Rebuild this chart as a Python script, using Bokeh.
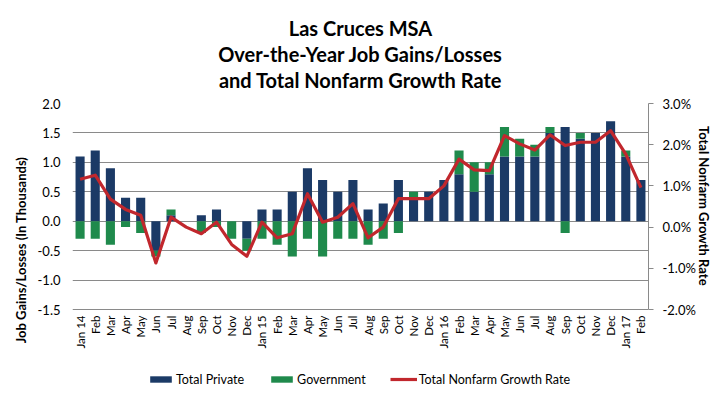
import numpy as np
from bokeh.plotting import figure
from bokeh.models import (ColumnDataSource, Range1d, LinearAxis, FixedTicker,
                          PrintfTickFormatter, NumeralTickFormatter, Legend,
                          LegendItem, Title)
from bokeh.core.properties import value
from bokeh.embed import file_html
from bokeh.resources import INLINE

months = ["Jan 14", "Feb", "Mar", "Apr", "May", "Jun", "Jul", "Aug", "Sep", "Oct", "Nov", "Dec",
          "Jan 15", "Feb", "Mar", "Apr", "May", "Jun", "Jul", "Aug", "Sep", "Oct", "Nov", "Dec",
          "Jan 16", "Feb", "Mar", "Apr", "May", "Jun", "Jul", "Aug", "Sep", "Oct", "Nov", "Dec",
          "Jan 17", "Feb"]
private = [1.1, 1.2, 0.9, 0.4, 0.4, -0.5, 0.1, 0.0, 0.1, 0.2, 0.0, -0.3,
           0.2, 0.2, 0.5, 0.9, 0.7, 0.5, 0.7, 0.2, 0.3, 0.7, 0.4, 0.5,
           0.7, 0.8, 0.5, 0.8, 1.1, 1.1, 1.1, 1.5, 1.6, 1.4, 1.5, 1.7,
           1.1, 0.7]
government = [-0.3, -0.3, -0.4, -0.1, -0.2, -0.1, 0.1, 0.0, -0.2, -0.1, -0.3, -0.2,
              -0.3, -0.4, -0.6, -0.3, -0.6, -0.3, -0.3, -0.4, -0.3, -0.2, 0.1, 0.0,
              0.0, 0.4, 0.5, 0.2, 0.5, 0.3, 0.2, 0.1, -0.2, 0.1, 0.0, 0.0,
              0.1, 0.0]
growth_rate = [1.16, 1.26, 0.68, 0.43, 0.29, -0.87, 0.24, 0.0, -0.16, 0.12, -0.42, -0.71,
               0.12, -0.26, -0.16, 0.81, 0.12, 0.24, 0.57, -0.26, 0.0, 0.69, 0.69, 0.69,
               1.0, 1.65, 1.39, 1.37, 2.22, 2.02, 1.87, 2.24, 1.98, 2.06, 2.06, 2.34,
               1.77, 0.96]
left_ticks = [-1.5, -1.0, -0.5, 0.0, 0.5, 1.0, 1.5, 2.0]
right_ticks = [-2, -1, 0, 1, 2, 3]

NAVY = "#1b3a66"
GREEN = "#1f8a4c"
RED = "#c1272d"
GRID = "#8a8a8a"
FONT = "Lato"

# layout: visible grid area is PLOT_H px tall; the frame extends below it
# so that the month labels and legend can sit inside the frame.
PLOT_H = 206
FRAME_H = 293
L_MIN, L_MAX = left_ticks[0], left_ticks[-1]
R_MIN, R_MAX = right_ticks[0], right_ticks[-1]
l_lo = L_MAX - (L_MAX - L_MIN) * FRAME_H / PLOT_H
r_lo = R_MAX - (R_MAX - R_MIN) * FRAME_H / PLOT_H

n = len(months)
x = list(range(n))
p_arr = np.array(private)
g_arr = np.array(government)
same = (np.sign(p_arr) == np.sign(g_arr)) & (p_arr != 0)
g_bottom = np.where(same, p_arr, 0.0)
g_top = g_bottom + g_arr

src = ColumnDataSource(dict(x=x, priv=private, zero=[0.0] * n,
                            gb=g_bottom, gt=g_top, rate=growth_rate,
                            lab=months, laby=[L_MIN] * n))

p = figure(frame_width=576, frame_height=FRAME_H, x_range=Range1d(-0.5, n - 0.5),
           y_range=Range1d(l_lo, L_MAX), output_backend="svg",
           toolbar_location=None, title_location=None,
           min_border_left=72, min_border_right=76,
           min_border_top=103, min_border_bottom=0)
p.extra_y_ranges = {"pct": Range1d(r_lo, R_MAX)}
p.outline_line_color = None
p.background_fill_color = "white"
p.border_fill_color = "white"

r_priv = p.vbar(x="x", bottom="zero", top="priv", width=0.6, source=src,
                fill_color=NAVY, line_color=None)
r_gov = p.vbar(x="x", bottom="gb", top="gt", width=0.6, source=src,
               fill_color=GREEN, line_color=None)
r_line = p.line(x="x", y="rate", source=src, y_range_name="pct",
                line_color=RED, line_width=3.2, line_join="round")

# month labels (rotated, reading upward, hanging below the -1.5 line)
p.text(x="x", y="laby", text="lab", source=src, angle=np.pi / 2,
       text_align="right", text_baseline="middle", y_offset=6,
       text_font=value(FONT), text_font_size="11.5px", text_color="black")

# spacer + titles (added inner to outer)
p.add_layout(Title(text=" ", text_font_size="8px", standoff=0), "above")
for i, t in enumerate(["and Total Nonfarm Growth Rate",
                       "Over-the-Year Job Gains/Losses",
                       "Las Cruces MSA"]):
    p.add_layout(Title(text=t, align="center", offset=4,
                       text_font=FONT, text_font_size="20px",
                       text_font_style="bold", text_color="black",
                       standoff=1 if i == 0 else 0), "above")

p.xaxis.visible = False

# left y axis
ya = p.yaxis[0]
ya.ticker = FixedTicker(ticks=left_ticks)
ya.bounds = (L_MIN, L_MAX)
ya.formatter = NumeralTickFormatter(format="0.0")
ya.axis_line_color = None
ya.major_tick_line_color = None
ya.major_tick_in = 0
ya.major_tick_out = 0
ya.minor_tick_line_color = None
ya.minor_tick_out = 0
ya.major_label_text_font = FONT
ya.major_label_text_font_size = "13px"
ya.major_label_text_color = "black"
ya.major_label_standoff = 12
ya.axis_label = "Job Gains/Losses (In Thousands)"
ya.axis_label_text_font = FONT
ya.axis_label_text_font_size = "13px"
ya.axis_label_text_font_style = "bold"
ya.axis_label_text_color = "black"
ya.axis_label_standoff = 6

# right axis (label padded at its end so it centres on the grid area)
ra = LinearAxis(y_range_name="pct", ticker=FixedTicker(ticks=right_ticks),
                formatter=PrintfTickFormatter(format="%.1f%%"),
                bounds=(R_MIN, R_MAX))
ra.axis_line_color = GRID
ra.major_tick_line_color = GRID
ra.major_tick_in = 0
ra.major_tick_out = 5
ra.minor_tick_line_color = None
ra.minor_tick_out = 0
ra.major_label_text_font = FONT
ra.major_label_text_font_size = "13px"
ra.major_label_text_color = "black"
ra.major_label_standoff = 9
ra.axis_label = "Total Nonfarm Growth Rate" + "\u00a0" * 28
ra.axis_label_text_font = FONT
ra.axis_label_text_font_size = "13px"
ra.axis_label_text_font_style = "bold"
ra.axis_label_text_color = "black"
ra.axis_label_standoff = -3
p.add_layout(ra, "right")

p.xgrid.grid_line_color = None
p.ygrid.grid_line_color = GRID
p.ygrid.grid_line_width = 1

legend = Legend(items=[LegendItem(label="Total Private", renderers=[r_priv]),
                       LegendItem(label="Government", renderers=[r_gov]),
                       LegendItem(label="Total Nonfarm Growth Rate", renderers=[r_line])],
                orientation="horizontal", location=(75, 9),
                glyph_width=27, glyph_height=8, label_standoff=2, spacing=24,
                label_height=16,
                label_text_font=FONT, label_text_font_size="12.5px",
                label_text_color="black", border_line_color=None,
                background_fill_alpha=0, padding=0, margin=0)
p.add_layout(legend, "center")

open("out.html", "w").write(file_html(p, INLINE))
